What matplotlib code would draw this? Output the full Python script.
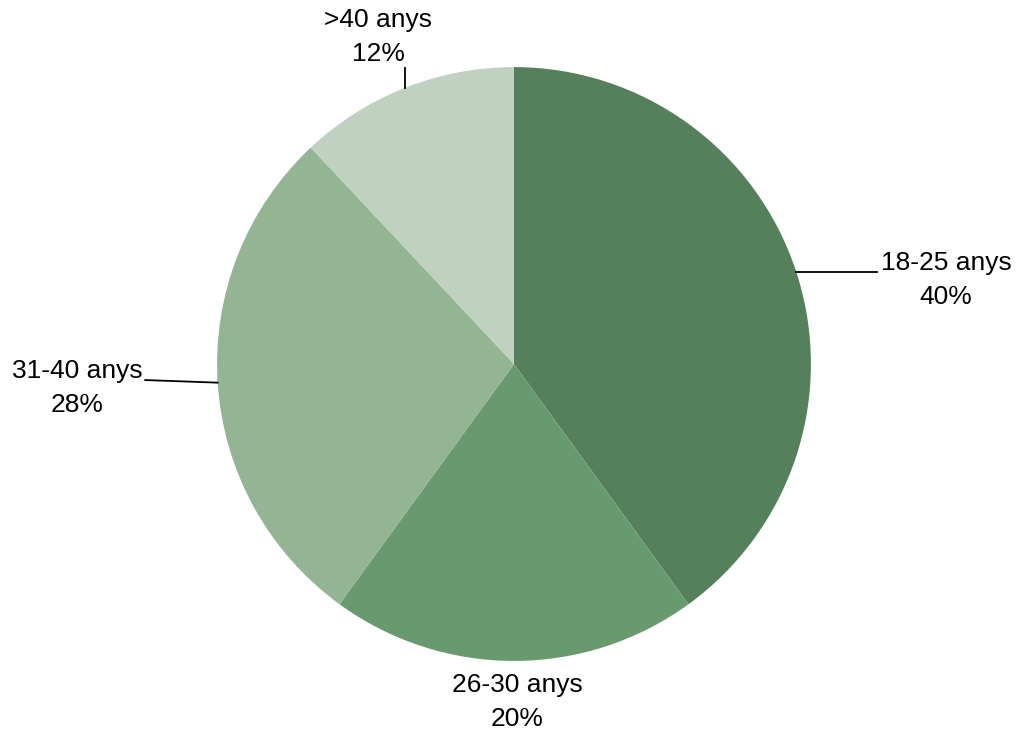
import matplotlib.pyplot as plt
import numpy as np

# age groups and their share
groups = ['18-25 anys', '26-30 anys', '31-40 anys', '>40 anys']
shares = [40, 20, 28, 12]
colors = ['#567F5B', '#699A6F', '#93B594', '#C0D1C2']

# where each label sits and where its leader line stops (None = no line)
label_xy = [(1.455, 0.283), (0.01, -1.138), (-1.471, -0.081), (-0.458, 1.101)]
line_end = [(1.222, None), None, (-1.242, -0.054), (None, 0.997)]

plt.rcParams['font.family'] = ['Liberation Sans', 'DejaVu Sans']

fig = plt.figure(figsize=(10.2, 7.31), dpi=100)
ax = fig.add_axes([0, 0, 1, 1])

wedges, _ = ax.pie(shares, colors=colors, startangle=90, counterclock=False,
                   radius=1, center=(0, 0), wedgeprops=dict(linewidth=0))

for w, name, val, (tx, ty), end in zip(wedges, groups, shares, label_xy, line_end):
    ax.text(tx, ty, f'{name}\n{val}%', ha='center', va='center',
            fontsize=19, linespacing=1.5, color='black')
    if end is None:
        continue
    mid = np.deg2rad((w.theta1 + w.theta2) / 2)
    x0, y0 = np.cos(mid), np.sin(mid)
    x1 = end[0] if end[0] is not None else x0
    y1 = end[1] if end[1] is not None else y0
    ax.plot([x0, x1], [y0, y1], color='black', linewidth=1.3)

ax.set_xlim(-1.731, 1.704)
ax.set_ylim(-1.236, 1.226)
ax.set_aspect('equal')
ax.axis('off')

fig.savefig('out.png', dpi=100)
